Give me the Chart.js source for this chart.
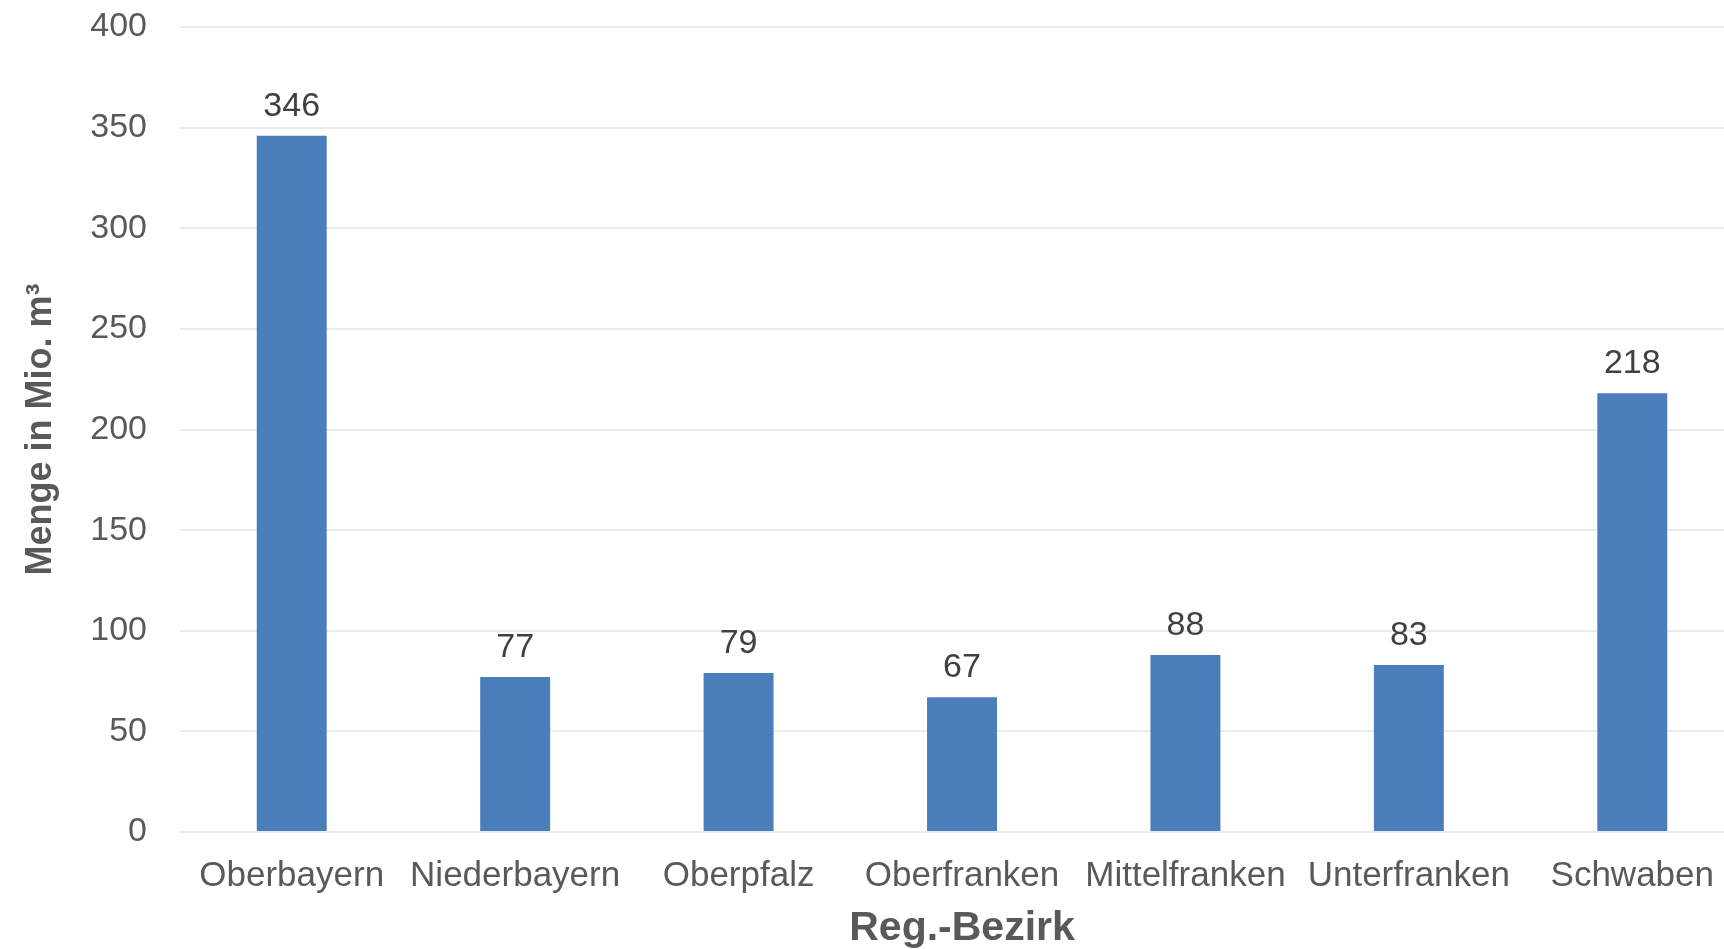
<!DOCTYPE html>
<html lang="de">
<head>
<meta charset="utf-8">
<title>Menge in Mio. m³ nach Reg.-Bezirk</title>
<script src="https://cdn.jsdelivr.net/npm/chart.js@4/dist/chart.umd.min.js"></script>
<style>
  html, body { margin: 0; padding: 0; overflow: hidden; background: #ffffff; }
  canvas { display: block; }
</style>
</head>
<body>
<canvas id="chart" width="1750" height="949"></canvas>
<script>
// Regierungsbezirke and quantities (Mio. m³)
const categories = ['Oberbayern', 'Niederbayern', 'Oberpfalz', 'Oberfranken', 'Mittelfranken', 'Unterfranken', 'Schwaben'];
const mengen = [346, 77, 79, 67, 88, 83, 218];

// value axis
const yMin = 0;
const yMax = 400;
const yStep = 50;

const FONT = "'Liberation Sans', Arial, Helvetica, sans-serif";
const TEXT_GREY = '#595959';
const LABEL_DARK = '#404040';
const BAR_BLUE = '#4A7EBB';

// writes each bar's value centred above it
const valueLabels = {
  id: 'valueLabels',
  afterDatasetsDraw(chart) {
    const { ctx } = chart;
    const meta = chart.getDatasetMeta(0);
    const values = chart.data.datasets[0].data;
    ctx.save();
    ctx.font = '34px ' + FONT;
    ctx.fillStyle = LABEL_DARK;
    ctx.textAlign = 'center';
    ctx.textBaseline = 'alphabetic';
    meta.data.forEach((bar, i) => {
      ctx.fillText(String(values[i]), bar.x, bar.y - 20);
    });
    ctx.restore();
  }
};

new Chart(document.getElementById('chart'), {
  type: 'bar',
  data: {
    labels: categories,
    datasets: [{
      data: mengen,
      backgroundColor: BAR_BLUE,
      borderWidth: 0,
      categoryPercentage: 1,
      barPercentage: 0.313
    }]
  },
  options: {
    responsive: false,
    animation: false,
    events: [],
    layout: { padding: { top: 27, right: 6, bottom: 0, left: 0 } },
    plugins: {
      legend: { display: false },
      tooltip: { enabled: false },
      title: { display: false }
    },
    scales: {
      x: {
        offset: true,
        grid: { display: false, drawTicks: false },
        border: { display: false },
        ticks: {
          color: TEXT_GREY,
          font: { family: FONT, size: 35 },
          padding: 23,
          maxRotation: 0,
          autoSkip: false
        },
        title: {
          display: true,
          text: 'Reg.-Bezirk',
          color: TEXT_GREY,
          font: { family: FONT, size: 41, weight: 'bold' },
          padding: { top: 0, bottom: -4 }
        },
        afterFit(scale) { scale.height = 117; }
      },
      y: {
        min: yMin,
        max: yMax,
        grid: { color: '#ebebeb', lineWidth: 2, drawTicks: false },
        border: { display: false },
        ticks: {
          stepSize: yStep,
          color: TEXT_GREY,
          font: { family: FONT, size: 34 },
          padding: 33
        },
        title: {
          display: true,
          text: 'Menge in Mio. m³',
          color: TEXT_GREY,
          font: { family: FONT, size: 36, weight: 'bold' },
          padding: { top: 19, bottom: 0 }
        },
        afterFit(scale) {
          scale.width = 180;
          // the plot top is set by layout.padding alone
          scale.paddingTop = 0;
          scale.paddingBottom = 0;
        }
      }
    }
  },
  plugins: [valueLabels]
});
</script>
</body>
</html>
